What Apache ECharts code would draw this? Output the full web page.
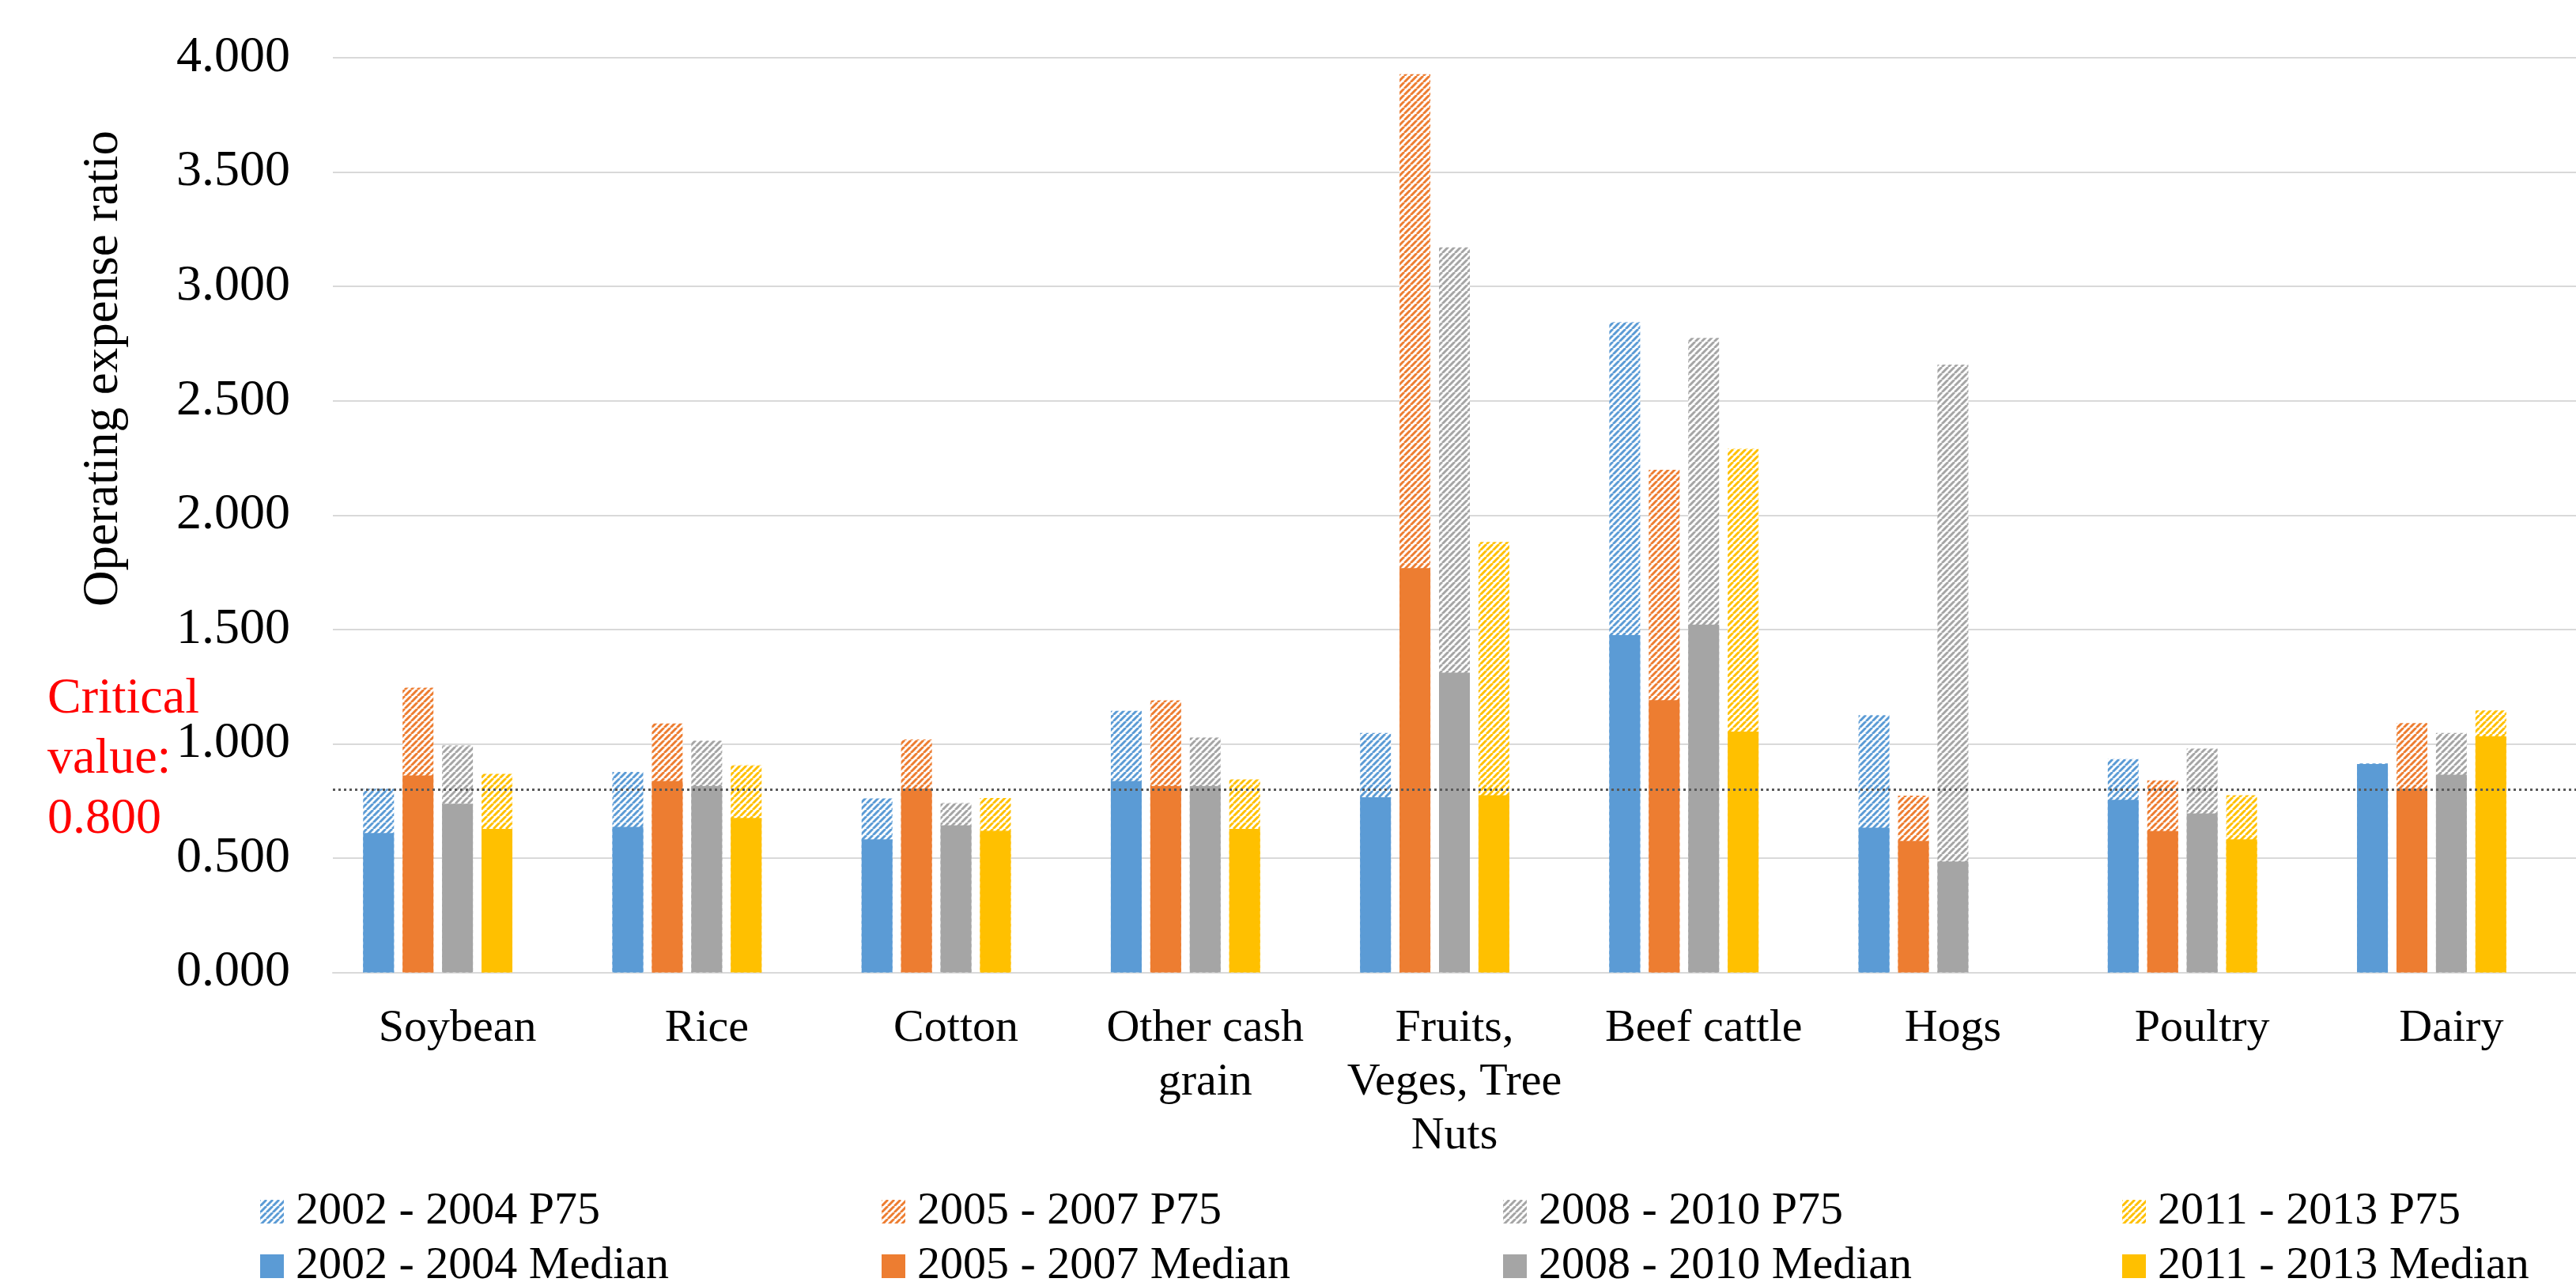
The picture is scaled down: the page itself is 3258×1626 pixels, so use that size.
<!DOCTYPE html>
<html>
<head>
<meta charset="utf-8">
<title>Operating expense ratio by farm type</title>
<script src="https://cdn.jsdelivr.net/npm/echarts@6/dist/echarts.min.js"></script>
<style>
  html, body { margin: 0; padding: 0; background: #fff; }
  #chart { width: 3258px; height: 1626px; }
</style>
</head>
<body>
<div id="chart"></div>
<script>
// Farm types along the category axis
const categories = ['Soybean', 'Rice', 'Cotton', 'Other cash\ngrain', 'Fruits,\nVeges, Tree\nNuts',
  'Beef cattle', 'Hogs', 'Poultry', 'Dairy'];

// Period labels
const periods = ['2002 - 2004', '2005 - 2007', '2008 - 2010', '2011 - 2013'];

// 75th percentile of the operating expense ratio, per period
const p75_2002_2004 = [0.803, 0.877, 0.761, 1.144, 1.047, 2.844, 1.125, 0.933, 0.914];
const p75_2005_2007 = [1.245, 1.089, 1.019, 1.190, 3.928, 2.198, 0.773, 0.840, 1.090];
const p75_2008_2010 = [0.993, 1.013, 0.741, 1.027, 3.171, 2.775, 2.658, 0.979, 1.047];
const p75_2011_2013 = [0.868, 0.906, 0.763, 0.844, 1.882, 2.290, null, 0.775, 1.146];

// Median operating expense ratio, per period
const median_2002_2004 = [0.610, 0.636, 0.582, 0.837, 0.766, 1.475, 0.633, 0.755, 0.911];
const median_2005_2007 = [0.861, 0.837, 0.804, 0.815, 1.768, 1.191, 0.575, 0.618, 0.803];
const median_2008_2010 = [0.738, 0.815, 0.643, 0.815, 1.311, 1.521, 0.485, 0.695, 0.865];
const median_2011_2013 = [0.628, 0.675, 0.619, 0.628, 0.775, 1.053, null, 0.582, 1.032];

// Threshold drawn as a dotted line
const criticalValue = 0.800;

// Value axis ticks
const yTicks = { min: 0, max: 4, interval: 0.5 };

const p75Data = [p75_2002_2004, p75_2005_2007, p75_2008_2010, p75_2011_2013];
const medianData = [median_2002_2004, median_2005_2007, median_2008_2010, median_2011_2013];
const colors = ['#5B9BD5', '#ED7D31', '#A5A5A5', '#FFC000'];
const FONT = '"Liberation Serif", "Times New Roman", serif';

// Upward diagonal hatch tile for the P75 bars
function hatch(color) {
  const c = document.createElement('canvas');
  c.width = 8; c.height = 8;
  const g = c.getContext('2d');
  g.fillStyle = '#ffffff';
  g.fillRect(0, 0, 8, 8);
  g.strokeStyle = color;
  g.lineWidth = 3;
  g.beginPath();
  [-8, 0, 8].forEach(k => { g.moveTo(k, 8); g.lineTo(k + 8, 0); });
  g.stroke();
  return { image: c, repeat: 'repeat' };
}

const barWidth = 39;
const barGap = '28%';
const series = [];

periods.forEach((p, i) => {
  series.push({
    name: p + ' P75',
    type: 'bar',
    xAxisIndex: 0,
    barWidth: barWidth,
    barGap: barGap,
    itemStyle: { color: hatch(colors[i]) },
    data: p75Data[i].map(v => v === null ? '-' : v),
    z: 2
  });
});
// Critical value series: holds the dotted threshold line
series.push({
  name: 'Critical value',
  type: 'bar',
  xAxisIndex: 0,
  barWidth: barWidth,
  barGap: barGap,
  data: [],
  markLine: {
    silent: true,
    symbol: 'none',
    label: { show: false },
    lineStyle: { color: '#595959', width: 3, type: [3, 4] },
    data: [{ yAxis: criticalValue }],
    z: 10
  }
});

periods.forEach((p, i) => {
  series.push({
    name: p + ' Median',
    type: 'bar',
    xAxisIndex: 1,
    barWidth: barWidth,
    barGap: barGap,
    itemStyle: { color: colors[i] },
    data: medianData[i].map(v => v === null ? '-' : v),
    z: 3
  });
});
series.push({
  name: 'Critical value',
  type: 'bar',
  xAxisIndex: 1,
  barWidth: barWidth,
  barGap: barGap,
  data: []
});

// One legend entry per position: P75 row above, Median row below
const legendCols = [329, 1115, 1901, 2684];
const legends = [];
periods.forEach((p, i) => {
  [[p + ' P75', 1503], [p + ' Median', 1572]].forEach(([name, top]) => {
    legends.push({
      data: [name],
      left: legendCols[i],
      top: top,
      padding: 0,
      itemWidth: 30,
      itemHeight: 30,
      icon: 'rect',
      selectedMode: false,
      textStyle: {
        fontFamily: FONT, fontSize: 58, color: '#000',
        lineHeight: 30, padding: [0, 0, 0, 10]
      }
    });
  });
});

const chart = echarts.init(document.getElementById('chart'), null, { renderer: 'canvas' });
chart.setOption({
  backgroundColor: '#ffffff',
  animation: false,
  grid: { left: 421, top: 73, width: 2905, height: 1156.5, containLabel: false },
  legend: legends,
  xAxis: [
    {
      type: 'category',
      data: categories,
      axisLine: { lineStyle: { color: '#D9D9D9', width: 2 } },
      axisTick: { show: false },
      axisLabel: {
        interval: 0, margin: 37, color: '#000',
        fontFamily: FONT, fontSize: 58, lineHeight: 68
      }
    },
    { type: 'category', data: categories, show: false }
  ],
  yAxis: {
    type: 'value',
    min: yTicks.min,
    max: yTicks.max,
    interval: yTicks.interval,
    axisLine: { show: false },
    axisTick: { show: false },
    splitLine: { lineStyle: { color: '#D9D9D9', width: 2 } },
    axisLabel: {
      margin: 54, color: '#000', fontFamily: FONT, fontSize: 64,
      formatter: v => v.toFixed(3)
    }
  },
  graphic: [
    {
      type: 'text',
      x: 131, y: 466,
      rotation: Math.PI / 2,
      style: {
        text: 'Operating expense ratio',
        fontFamily: FONT, fontSize: 63, fill: '#000',
        align: 'center', verticalAlign: 'middle'
      }
    },
    {
      type: 'text',
      x: 60, y: 960,
      style: {
        text: 'Critical\nvalue:\n0.800',
        fontFamily: FONT, fontSize: 64, lineHeight: 76, fill: '#FF0000',
        align: 'left', verticalAlign: 'middle'
      }
    }
  ],
  series: series
});
</script>
</body>
</html>
